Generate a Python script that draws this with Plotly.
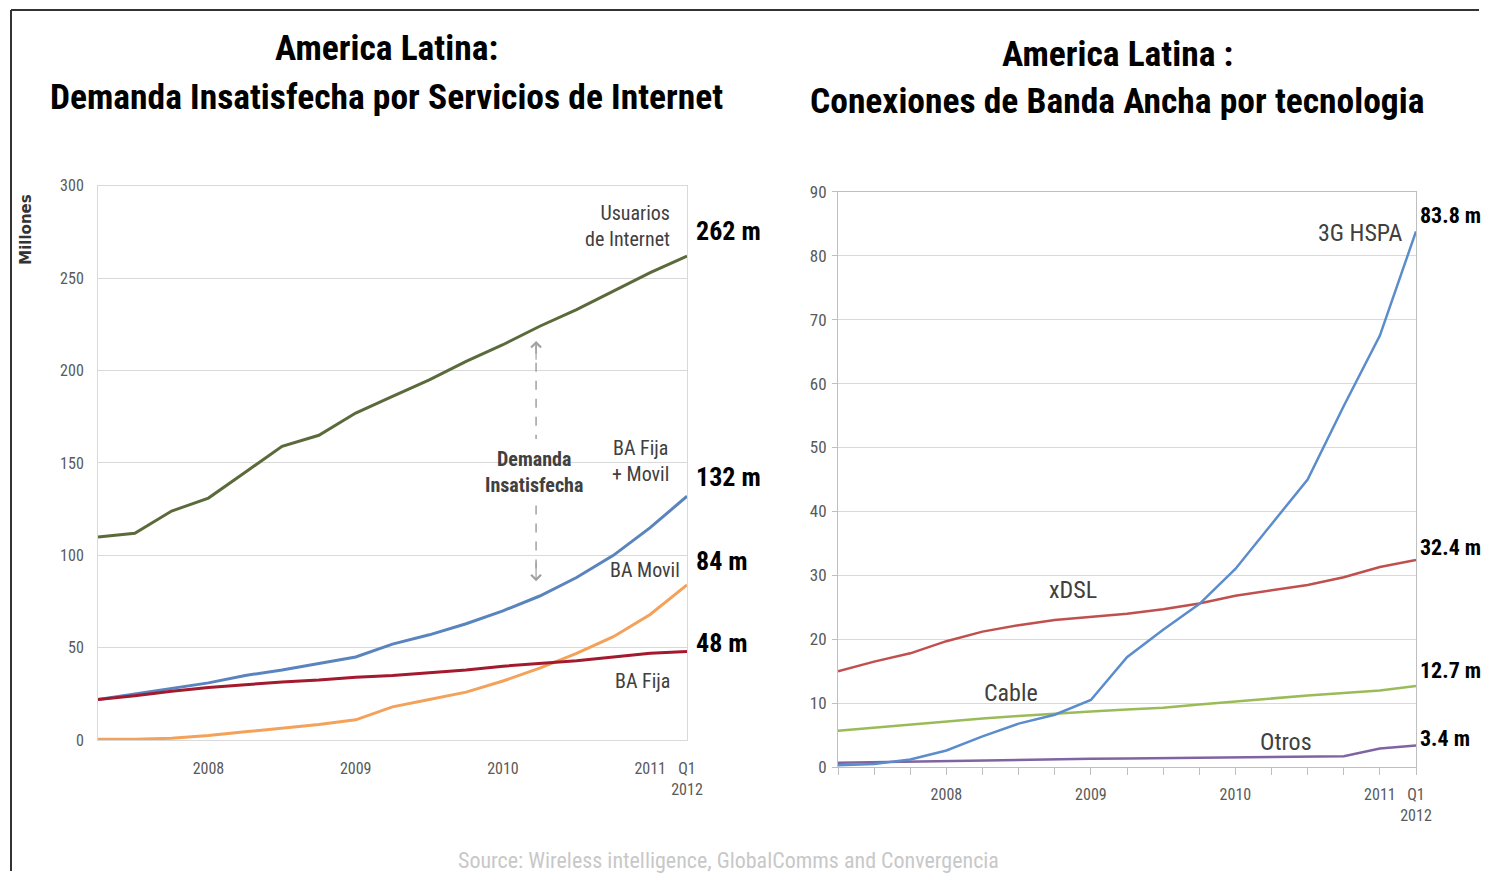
import plotly.graph_objects as go
from plotly.subplots import make_subplots

W, H = 1495, 881
# the page shows the figure on a 1479x862 canvas starting 9px down,
# so layout positions are given as pixels on that canvas
CW, CH, CTOP = 1479, 862, 9


def px(x):
    return x / CW


def py(y):
    return 1 - (y - CTOP) / CH


# quarterly points, index 0..16
quarters = list(range(17))
year_tickvals = [3, 7, 11, 15, 16]
year_ticktext = ["2008", "2009", "2010", "2011", "Q1<br>2012"]

# left chart: demanda insatisfecha (millones)
usuarios_internet = [110, 112, 124, 131, 145, 159, 165, 177, 186, 195, 205, 214, 224, 233, 243, 253, 262]
ba_fija_movil = [22, 25, 28, 31, 35, 38, 41.5, 45, 52, 57, 63, 70, 78, 88, 100, 115, 132]
ba_movil = [0.5, 0.5, 1, 2.5, 4.5, 6.5, 8.5, 11, 18, 22, 26, 32, 39, 47, 56, 68, 84]
ba_fija = [22, 24, 26.5, 28.5, 30, 31.5, 32.5, 34, 35, 36.5, 38, 40, 41.5, 43, 45, 47, 48]

# right chart: conexiones por tecnologia (millones)
hspa_3g = [0.3, 0.5, 1.2, 2.6, 4.8, 6.8, 8.2, 10.5, 17.2, 21.5, 25.5, 31, 38, 45, 56.5, 67.5, 83.8]
xdsl = [15, 16.5, 17.8, 19.7, 21.2, 22.2, 23, 23.5, 24, 24.7, 25.6, 26.8, 27.7, 28.5, 29.7, 31.3, 32.4]
cable = [5.7, 6.2, 6.7, 7.2, 7.6, 8, 8.4, 8.7, 9, 9.3, 9.8, 10.3, 10.8, 11.2, 11.6, 12, 12.7]
otros = [0.7, 0.8, 0.9, 1.0, 1.05, 1.1, 1.2, 1.3, 1.35, 1.4, 1.45, 1.5, 1.55, 1.6, 1.7, 2.9, 3.4]

NARROW = "Liberation Sans Narrow, Arial Narrow, Roboto Condensed, sans-serif"
GRID = "#d9d9d9"
TICKC = "#595959"

fig = make_subplots(rows=1, cols=2)

left_series = [
    (usuarios_internet, "#5b6a3a"),
    (ba_movil, "#f4a25a"),
    (ba_fija_movil, "#5a84bd"),
    (ba_fija, "#a3192e"),
]
for vals, col in left_series:
    fig.add_trace(go.Scatter(x=quarters, y=vals, mode="lines",
                             line=dict(color=col, width=3)), row=1, col=1)

right_series = [
    (otros, "#8064a2"),
    (cable, "#9bbb59"),
    (xdsl, "#c0504d"),
    (hspa_3g, "#5b8ccc"),
]
for vals, col in right_series:
    fig.add_trace(go.Scatter(x=quarters, y=vals, mode="lines",
                             line=dict(color=col, width=2.5)), row=1, col=2)

fig.update_layout(
    width=W, height=H,
    margin=dict(l=0, r=0, t=0, b=0),
    paper_bgcolor="white", plot_bgcolor="white",
    showlegend=False,
    font=dict(family=NARROW, color=TICKC),
    xaxis=dict(domain=[px(98), px(687)], range=[0, 16], tickvals=year_tickvals,
               ticktext=year_ticktext, showgrid=False, showline=True, linecolor=GRID,
               mirror=True, ticks="", ticklabelstandoff=14,
               tickfont=dict(size=16, color=TICKC, family=NARROW), zeroline=False),
    yaxis=dict(domain=[py(740), py(185)], range=[0, 300], dtick=50,
               showgrid=True, gridcolor=GRID, showline=True, linecolor=GRID,
               mirror=True, ticks="", ticklabelstandoff=10,
               tickfont=dict(size=16, color=TICKC, family=NARROW), zeroline=False),
    xaxis2=dict(domain=[px(838), px(1416)], range=[0, 16], tickvals=year_tickvals,
                ticktext=year_ticktext, showgrid=False, showline=True, linecolor="#bfbfbf",
                mirror=True, ticks="outside", ticklen=7, tickcolor="#bfbfbf",
                minor=dict(ticks="outside", dtick=1, tick0=0, ticklen=7, tickcolor="#bfbfbf"),
                ticklabelstandoff=6,
                tickfont=dict(size=16, color=TICKC, family=NARROW), zeroline=False),
    yaxis2=dict(domain=[py(767), py(191)], range=[0, 90], dtick=10,
                showgrid=True, gridcolor=GRID, showline=True, linecolor="#bfbfbf",
                mirror=True, ticks="outside", ticklen=5, tickcolor="#bfbfbf",
                ticklabelstandoff=2,
                tickfont=dict(size=17, color=TICKC, family=NARROW), zeroline=False),
)

TITLE_FONT = dict(family=NARROW, size=35.5, color="black", weight="bold")
ann = [
    dict(text="America Latina:", x=px(386), y=py(47), font=TITLE_FONT),
    dict(text="Demanda Insatisfecha por Servicios de Internet", x=px(386), y=py(96), font=TITLE_FONT),
    dict(text="America Latina :", x=px(1117), y=py(53), font=TITLE_FONT),
    dict(text="Conexiones de Banda Ancha por tecnologia", x=px(1117), y=py(100), font=TITLE_FONT),
    dict(text="Millones", x=px(26), y=py(229), textangle=-90,
         font=dict(family="DejaVu Sans", size=15, color="#333", weight="bold")),
    dict(text="Source: Wireless intelligence, GlobalComms and Convergencia", x=px(728), y=py(860),
         font=dict(family=NARROW, size=22, color="#c8c8c8")),
]
for a in ann:
    a.update(xref="paper", yref="paper", showarrow=False, xanchor="center", yanchor="middle")
    fig.add_annotation(**a)

LBL = dict(family=NARROW, size=20, color="#404040")
VAL = dict(family=NARROW, size=26, color="black", weight="bold")
VAL_R = dict(family=NARROW, size=22, color="black", weight="bold")

# series labels, left chart
for text, x, y, align in [
    ("Usuarios<br>de Internet", 15.6, 278, "right"),
    ("BA Fija<br>+ Movil", 14.75, 151, "center"),
    ("BA Movil", 14.86, 92, "center"),
    ("BA Fija", 14.8, 32, "center"),
]:
    fig.add_annotation(x=x, y=y, xref="x", yref="y", text=text, showarrow=False,
                       xanchor="right" if align == "right" else "center", align=align, font=LBL)

fig.add_annotation(x=11.84, y=145, xref="x", yref="y", text="<b>Demanda<br>Insatisfecha</b>",
                   showarrow=False, font=dict(family=NARROW, size=20, color="#404040"))

# value labels, left chart
for vals, dy in [(usuarios_internet, 25), (ba_fija_movil, 19), (ba_movil, 24), (ba_fija, 8)]:
    fig.add_annotation(x=16, y=vals[-1], xref="x", yref="y", text=f"{vals[-1]:g} m", showarrow=False,
                       xanchor="left", xshift=7, yshift=dy, font=VAL)

# dashed double arrow (demanda insatisfecha)
for y0, y1 in [(214, 163), (127, 88)]:
    fig.add_shape(type="line", x0=11.9, x1=11.9, y0=y0, y1=y1, xref="x", yref="y",
                  line=dict(color="#a0a0a0", width=1.5, dash="dash"))
for head, tail in [(216, 205), (86, 97)]:
    fig.add_annotation(x=11.9, y=head, ax=11.9, ay=tail, xref="x", yref="y", axref="x", ayref="y",
                       text="", showarrow=True, arrowhead=4, arrowsize=1.6, arrowwidth=1.2,
                       arrowcolor="#a0a0a0")

# series labels, right chart
for text, x, y in [("3G HSPA", 14.45, 83.6), ("xDSL", 6.5, 27.7), ("Cable", 4.79, 11.6), ("Otros", 12.4, 3.9)]:
    fig.add_annotation(x=x, y=y, xref="x2", yref="y2", text=text, showarrow=False,
                       font=dict(family=NARROW, size=24, color="#404040"))

# value labels, right chart (a bit smaller so they stay inside the page)
for vals, dy in [(hspa_3g, 16), (xdsl, 12), (cable, 15), (otros, 7)]:
    fig.add_annotation(x=16, y=vals[-1], xref="x2", yref="y2", text=f"{vals[-1]:g} m", showarrow=False,
                       xanchor="left", xshift=2, yshift=dy, font=VAL_R)

# picture frame
fig.add_shape(type="line", xref="paper", yref="paper", x0=px(11), x1=px(11), y0=0, y1=py(9),
              line=dict(color="#333333", width=2))
fig.add_shape(type="line", xref="paper", yref="paper", x0=px(11), x1=1, y0=py(9), y1=py(9),
              line=dict(color="#333333", width=2))

# pin the figure to the top-left corner of the page, no scrolling
pin = (
    "document.documentElement.style.overflow='hidden';"
    "document.body.style.margin='0px';document.body.style.overflow='hidden';"
    "var gd=document.getElementById('{plot_id}');"
    "gd.style.position='fixed';gd.style.left='0px';gd.style.top='0px';"
)
fig.write_html("out.html", config={"displayModeBar": False}, post_script=pin)
